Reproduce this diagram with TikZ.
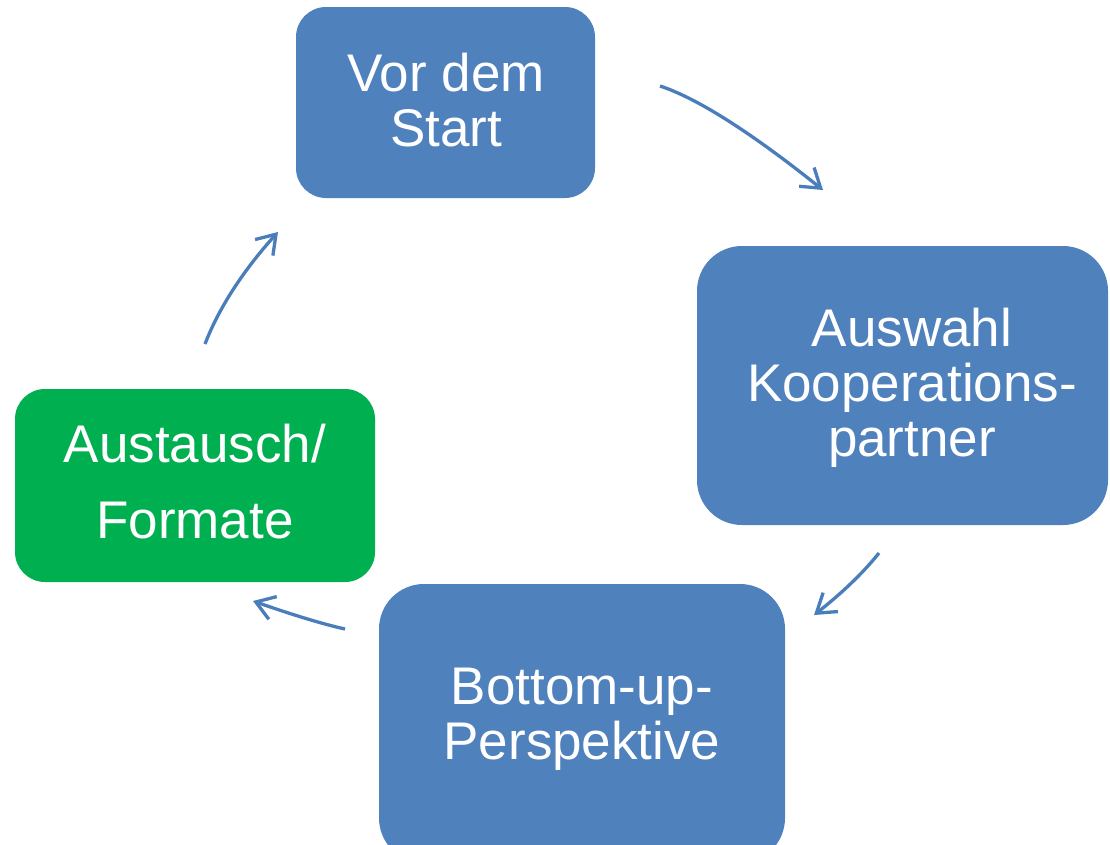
\documentclass[tikz,border=0pt]{standalone}
\usepackage{fontspec}
\setmainfont{Liberation Sans}
\usetikzlibrary{arrows.meta}
\definecolor{boxblue}{HTML}{4F81BD}
\definecolor{boxgreen}{HTML}{00B050}
\definecolor{arrowblue}{HTML}{4A7EBB}
\tikzset{
  stagebox/.style={rectangle, inner sep=0pt, outer sep=0pt},
  stagetext/.style={text=white, align=center, inner sep=0pt, font={\fontsize{53}{55}\selectfont}},
  cyclearrow/.style={draw=arrowblue, line width=3.3pt, -{Straight Barb[length=18pt,width=24pt,line width=3.3pt]}}
}
\begin{document}
\begin{tikzpicture}[x=1pt,y=-1pt]
\useasboundingbox (0,0) rectangle (1110,844);
\clip (0,0) rectangle (1110,844);
\fill[white] (0,0) rectangle (1110,844);
% boxes
\node[stagebox, fill=boxblue, rounded corners=30pt, minimum width=299pt, minimum height=191pt] (top) at (445.5,102.5) {};
\node[stagebox, fill=boxblue, rounded corners=45pt, minimum width=411pt, minimum height=279pt] (right) at (902.5,385.5) {};
\node[stagebox, fill=boxblue, rounded corners=45pt, minimum width=406pt, minimum height=279pt] (bottom) at (582,723.5) {};
\node[stagebox, fill=boxgreen, rounded corners=30pt, minimum width=360pt, minimum height=193pt] (left) at (195,485.5) {};
% texts
\node[stagetext] (ttop) at (446,100) {Vor dem\\Start};
\node[stagetext] (tright) at (912,388) {Auswahl\\Kooperations-\\partner};
\node[stagetext] (tbottom) at (582,719) {Bottom-up-\\Perspektive};
\node[stagetext, font={\fontsize{53}{76}\selectfont}] (tleft) at (195,482) {Austausch/\\Formate};
% arrow end points
\coordinate (a1s) at (660,86);
\coordinate (a1e) at (823,190);
\coordinate (a2s) at (879,553);
\coordinate (a2e) at (814,615);
\coordinate (a3s) at (345,629);
\coordinate (a3e) at (253,601);
\coordinate (a4s) at (205,344);
\coordinate (a4e) at (278,232);
% arrows
\draw[cyclearrow] (a1s) .. controls (697.5,98.3) and (751.7,133) .. (a1e);
\draw[cyclearrow] (a2s) .. controls (863,573) and (841.3,593.7) .. (a2e);
\draw[cyclearrow] (a3s) .. controls (323.7,624.3) and (293,615) .. (a3e);
\draw[cyclearrow] (a4s) .. controls (218.8,308) and (243.1,270.7) .. (a4e);
\end{tikzpicture}
\end{document}
